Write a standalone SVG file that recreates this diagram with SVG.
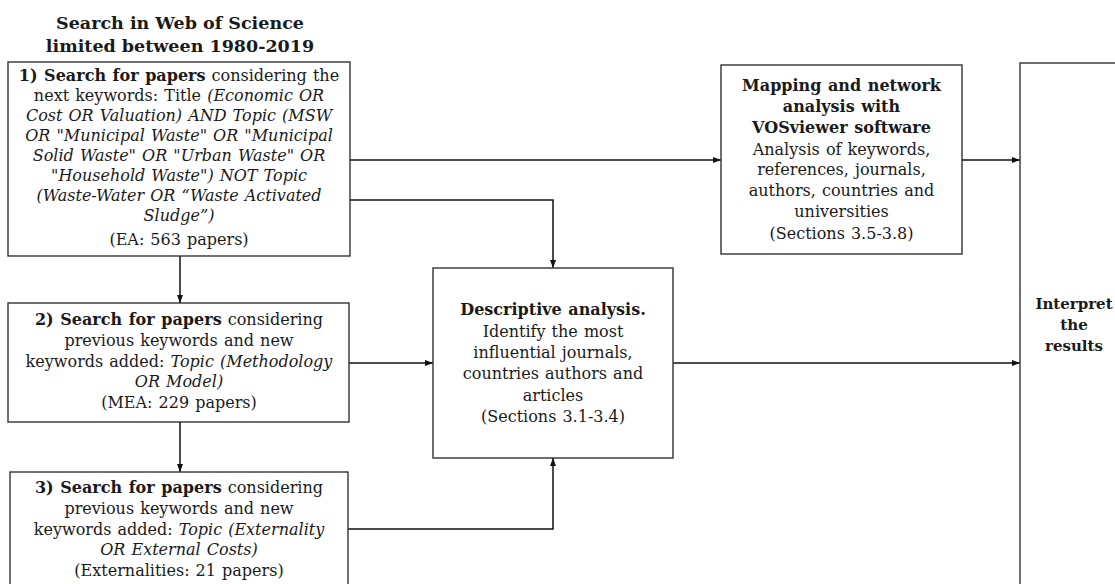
<svg xmlns="http://www.w3.org/2000/svg" width="1115" height="584" viewBox="0 0 1115 584">
<style>
text{font-family:"DejaVu Serif","Liberation Serif",serif;font-size:16px;word-spacing:1px;fill:#1a1a1a;text-anchor:middle}
.b{font-weight:bold}
.i{font-style:italic}
.t{font-size:17.5px;font-weight:bold;word-spacing:0}
.r{font-size:15px;font-weight:bold;word-spacing:0}
.box{fill:#fff;stroke:#333;stroke-width:1.4}
.c{fill:none;stroke:#111;stroke-width:1.5}
</style>
<defs>
<marker id="ah" viewBox="0 0 8 6" refX="8" refY="3" markerWidth="8" markerHeight="6" markerUnits="userSpaceOnUse" orient="auto">
<path d="M0,0 L8,3 L0,6 z" fill="#111"/>
</marker>
</defs>
<rect width="1115" height="584" fill="#fff"/>
<g id="title">
<text class="t" x="180" y="29">Search in Web of Science</text>
<text class="t" x="180" y="52">limited between 1980-2019</text>
</g>
<g id="connectors">
<path class="c" d="M350,160 H721" marker-end="url(#ah)"/>
<path class="c" d="M350,200 H553 V268" marker-end="url(#ah)"/>
<path class="c" d="M180,256 V303" marker-end="url(#ah)"/>
<path class="c" d="M180,422 V472" marker-end="url(#ah)"/>
<path class="c" d="M349,363 H433" marker-end="url(#ah)"/>
<path class="c" d="M348,529 H553 V458" marker-end="url(#ah)"/>
<path class="c" d="M962,160 H1020" marker-end="url(#ah)"/>
<path class="c" d="M673,363 H1020" marker-end="url(#ah)"/>
</g>
<g id="box1">
<rect class="box" x="8" y="62" width="342" height="194"/>
<text x="179" y="81"><tspan class="b">1) Search for papers</tspan> considering the</text>
<text x="179" y="101">next keywords: Title <tspan class="i">(Economic OR</tspan></text>
<text x="179" y="121" class="i">Cost OR Valuation) AND Topic (MSW</text>
<text x="179" y="141" class="i">OR "Municipal Waste" OR "Municipal</text>
<text x="179" y="161" class="i">Solid Waste" OR "Urban Waste" OR</text>
<text x="179" y="181" class="i">"Household Waste") NOT Topic</text>
<text x="179" y="201" class="i">(Waste-Water OR “Waste Activated</text>
<text x="179" y="221" class="i">Sludge”)</text>
<text x="179" y="245">(EA: 563 papers)</text>
</g>
<g id="box2">
<rect class="box" x="8" y="303" width="341" height="119"/>
<text x="179" y="325"><tspan class="b">2) Search for papers</tspan> considering</text>
<text x="179" y="346">previous keywords and new</text>
<text x="179" y="367">keywords added: <tspan class="i">Topic (Methodology</tspan></text>
<text x="179" y="387" class="i">OR Model)</text>
<text x="179" y="408">(MEA: 229 papers)</text>
</g>
<g id="box3">
<rect class="box" x="10" y="472" width="338" height="140"/>
<text x="179" y="493"><tspan class="b">3) Search for papers</tspan> considering</text>
<text x="179" y="514">previous keywords and new</text>
<text x="179" y="535">keywords added: <tspan class="i">Topic (Externality</tspan></text>
<text x="179" y="555" class="i">OR External Costs)</text>
<text x="179" y="576">(Externalities: 21 papers)</text>
</g>
<g id="descriptive">
<rect class="box" x="433" y="268" width="240" height="190"/>
<text x="553" y="315" class="b">Descriptive analysis.</text>
<text x="553" y="337">Identify the most</text>
<text x="553" y="358">influential journals,</text>
<text x="553" y="379">countries authors and</text>
<text x="553" y="401">articles</text>
<text x="553" y="422">(Sections 3.1-3.4)</text>
</g>
<g id="mapping">
<rect class="box" x="721" y="65" width="241" height="189"/>
<text x="841.5" y="91" class="b">Mapping and network</text>
<text x="841.5" y="112" class="b">analysis with</text>
<text x="841.5" y="133" class="b">VOSviewer software</text>
<text x="841.5" y="155">Analysis of  keywords,</text>
<text x="841.5" y="175">references, journals,</text>
<text x="841.5" y="196">authors, countries and</text>
<text x="841.5" y="217">universities</text>
<text x="841.5" y="239">(Sections 3.5-3.8)</text>
</g>
<g id="interpret">
<rect class="box" x="1020" y="63" width="200" height="600"/>
<text x="1074" y="309" class="r">Interpret</text>
<text x="1074" y="330" class="r">the</text>
<text x="1074" y="351" class="r">results</text>
</g>
</svg>
